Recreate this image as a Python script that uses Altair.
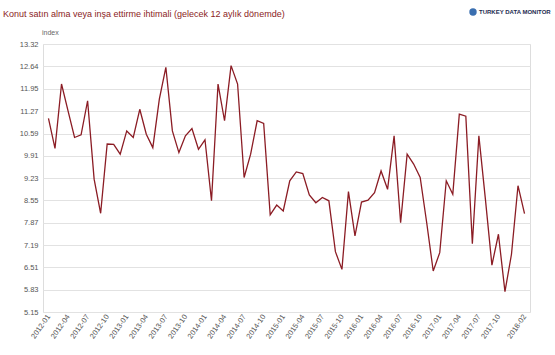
import altair as alt
import pandas as pd

months = [f"{y}-{m:02d}" for y in range(2012, 2019) for m in range(1, 13)][:74]
values = [
    11.05, 10.14, 12.10, 11.28, 10.47, 10.55, 11.59, 9.20, 8.16, 10.27, 10.26, 9.96,
    10.67, 10.47, 11.33, 10.57, 10.16, 11.64, 12.61, 10.67, 10.01, 10.52, 10.74, 10.11,
    10.40, 8.54, 12.10, 10.98, 12.66, 12.10, 9.25, 9.96, 10.98, 10.90, 8.11, 8.41,
    8.23, 9.15, 9.42, 9.37, 8.72, 8.48, 8.64, 8.54, 6.99, 6.45, 8.82, 7.47,
    8.50, 8.56, 8.79, 9.45, 8.89, 10.52, 7.87, 9.96, 9.66, 9.25, 7.87, 6.40,
    6.96, 9.15, 8.74, 11.18, 11.12, 7.23, 10.52, 8.59, 6.58, 7.52, 5.77, 6.91,
    9.00, 8.15,
]
x_labels = months[0:72:3] + ["2018-02"]
y_ticks = [5.15, 5.83, 6.51, 7.19, 7.87, 8.55, 9.23, 9.91, 10.59, 11.27, 11.95, 12.64, 13.32]

title_text = "Konut satın alma veya inşa ettirme ihtimali (gelecek 12 aylık dönemde)"
logo_text = "TURKEY DATA MONITOR"
unit_text = "index"

df = pd.DataFrame({"month": months, "value": values})

line = alt.Chart(df).mark_line(color="#8b1c24", strokeWidth=1.3).encode(
    x=alt.X(
        "month:O",
        sort=months,
        scale=alt.Scale(type="point", padding=0.84),
        axis=alt.Axis(
            values=x_labels, labelAngle=-55, title=None, ticks=False, domain=False,
            grid=False, labelFontSize=7.5, labelColor="#555555", labelPadding=3,
            labelFont="Liberation Sans",
        ),
    ),
    y=alt.Y(
        "value:Q",
        scale=alt.Scale(domain=[5.15, 13.32], nice=False, zero=False),
        axis=alt.Axis(
            values=y_ticks, format=".2f", title=None, ticks=False, domain=False,
            gridColor="#e2e2e2", gridWidth=1, labelFontSize=7.5, labelColor="#555555",
            labelPadding=5, labelFont="Liberation Sans",
        ),
    ),
)

title = alt.Chart(pd.DataFrame({"t": [title_text]})).mark_text(
    align="left", baseline="middle", font="Liberation Sans", fontSize=9,
    color="#8b1c24", fontWeight="normal",
).encode(text="t:N", x=alt.value(-40), y=alt.value(-30))

logo = alt.Chart(pd.DataFrame({"t": [logo_text]})).mark_text(
    align="left", baseline="middle", font="Liberation Sans", fontSize=6,
    color="#1d2b4f", fontWeight="bold",
).encode(text="t:N", x=alt.value(436), y=alt.value(-32))

logo_icon = alt.Chart(pd.DataFrame({"t": [logo_text]})).mark_point(
    filled=True, shape="circle", size=55, color="#3a6fb0", opacity=1,
).encode(x=alt.value(430), y=alt.value(-32))

unit = alt.Chart(pd.DataFrame({"t": [unit_text]})).mark_text(
    align="left", baseline="middle", font="Liberation Sans", fontSize=7,
    color="#666666",
).encode(text="t:N", x=alt.value(-1), y=alt.value(-11))

chart = alt.layer(line, title, logo, logo_icon, unit).properties(
    width=487,
    height=268,
    autosize=alt.AutoSizeParams(type="none"),
    padding={"left": 43, "top": 44, "right": 25, "bottom": 43},
).configure_view(stroke="#d8d8d8").configure(background="white")

chart.save("out.html", embed_options={"renderer": "svg", "actions": False})
